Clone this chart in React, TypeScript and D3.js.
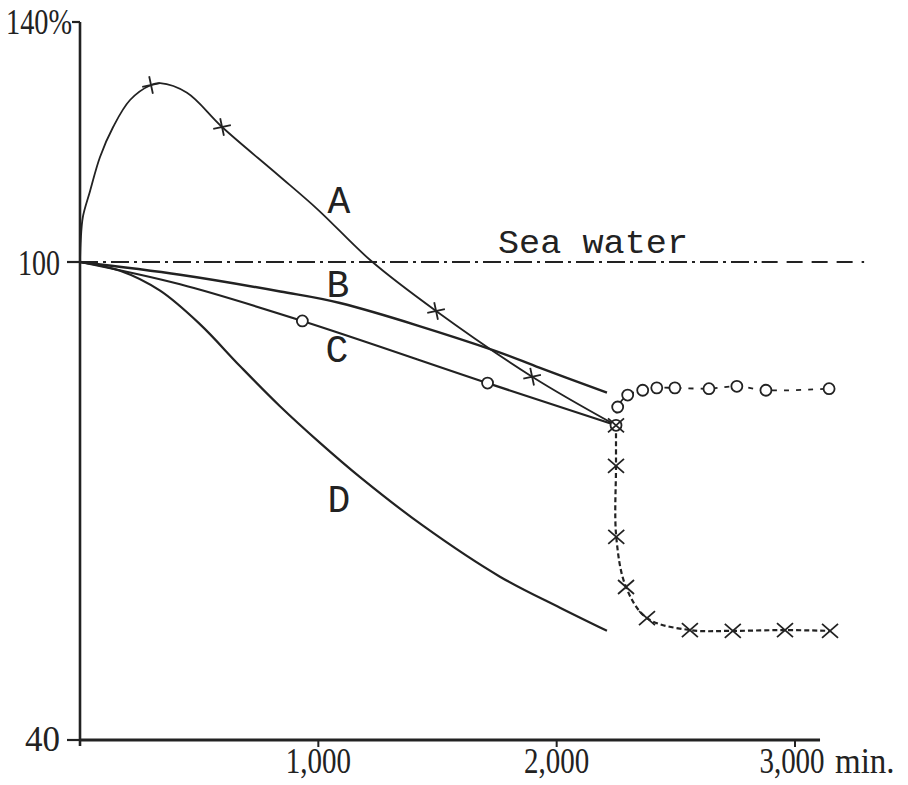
import React from "react";
import * as d3 from "d3";

// ---- axes ----
const Y_TICKS = [40, 100, 140];
const Y_TICK_LABELS = ["40", "100", "140%"];
const X_TICKS = [1000, 2000, 3000];
const X_TICK_LABELS = ["1,000", "2,000", "3,000"];
const X_UNIT = "min.";
const X_AXIS_END = 3105;

// ---- reference line ----
const SEA_WATER_LEVEL = 100;
const SEA_WATER_DASHDOT_END = 2860;
const SEA_WATER_END = 3290;
const SEA_WATER_LABEL = "Sea water";

// ---- curve A (solid) ----
const A_TIME = [0, 3, 12, 42, 84, 139, 210, 298, 336, 449, 596, 831, 999, 1221, 1494, 1897, 2249];
const A_VALUE = [100, 103.5, 107.5, 111.8, 117.5, 122.5, 127, 129.5, 129.8, 128.2, 122.5, 114.5, 108.7, 100.2, 93.85, 85.6, 79.5];
const A_MARK_TIME = [298, 596, 1494, 1897];
const A_MARK_VALUE = [129.5, 122.5, 93.85, 85.6];

// ---- curve B ----
const B_TIME = [0, 420, 840, 1091, 1733, 1930, 2211];
const B_VALUE = [100, 98.4, 96.3, 94.85, 88.95, 86.7, 83.6];

// ---- curve C ----
const C_TIME = [0, 420, 933, 1710, 2249];
const C_VALUE = [100, 97.2, 92.6, 84.8, 79.5];
const C_MARK_TIME = [933, 1710, 2249];
const C_MARK_VALUE = [92.6, 84.8, 79.5];

// ---- curve D ----
const D_TIME = [0, 168, 336, 503, 671, 839, 1007, 1175, 1439, 1762, 2014, 2211];
const D_VALUE = [100, 98.9, 96.4, 92.2, 86.95, 81.9, 77.3, 73.0, 66.9, 60.5, 56.6, 53.7];

// ---- continuation after transfer (dotted) ----
const A_AFTER_TIME = [2249, 2249, 2250, 2291, 2379, 2559, 2739, 2958, 3147];
const A_AFTER_VALUE = [79.5, 74.4, 65.5, 59.2, 55.3, 53.8, 53.7, 53.8, 53.7];
const C_AFTER_TIME = [2249, 2256, 2298, 2361, 2420, 2496, 2639, 2756, 2878, 3143];
const C_AFTER_VALUE = [79.5, 81.8, 83.3, 83.9, 84.2, 84.2, 84.1, 84.4, 83.9, 84.1];

const INK = "#222";

const x = d3.scaleLinear().domain([0, 3000]).range([80, 795]);
const y = d3.scaleLinear().domain([40, 100, 140]).range([740, 262, 22]);

const zip = (t: number[], v: number[]) => t.map((tt, i) => [tt, v[i]] as [number, number]);

const smooth = d3
  .line<[number, number]>()
  .x((d) => x(d[0]))
  .y((d) => y(d[1]))
  .curve(d3.curveCatmullRom.alpha(0.5));

const straight = d3
  .line<[number, number]>()
  .x((d) => x(d[0]))
  .y((d) => y(d[1]));

function Plus({ cx, cy }: { cx: number; cy: number }) {
  return (
    <path
      d="M-9,0 L9,0 M0,-9 L0,9"
      transform={`translate(${cx},${cy}) rotate(-12)`}
      stroke={INK}
      strokeWidth={1.8}
      fill="none"
    />
  );
}

function Cross({ cx, cy }: { cx: number; cy: number }) {
  return (
    <path
      d="M-8,-7 L8,7 M-8,7 L8,-7"
      transform={`translate(${cx},${cy})`}
      stroke={INK}
      strokeWidth={1.8}
      fill="none"
    />
  );
}

function Ring({ cx, cy }: { cx: number; cy: number }) {
  return <circle cx={cx} cy={cy} r={5.5} fill="white" stroke={INK} strokeWidth={1.8} />;
}

export default function App() {
  const serif = "'Liberation Serif', 'DejaVu Serif', serif";
  const mono = "'Liberation Mono', 'DejaVu Sans Mono', monospace";
  const yLabelWidths = [35, 42, 66];
  const yLabelBaselines = [11, 13, 12];
  const labelSize = 38;
  const xLabelY = y(40) + 33;
  return (
    <svg
      width={908}
      height={785}
      style={{ position: "absolute", left: 0, top: 0, background: "white" }}
    >
      <rect width={908} height={785} fill="white" />

      {/* Sea water reference line */}
      <path
        d={straight([
          [0, SEA_WATER_LEVEL],
          [SEA_WATER_DASHDOT_END, SEA_WATER_LEVEL],
        ]) || ""}
        stroke={INK}
        strokeWidth={1.8}
        strokeDasharray="18,5,3,5"
        fill="none"
      />
      <path
        d={straight([
          [SEA_WATER_DASHDOT_END, SEA_WATER_LEVEL],
          [SEA_WATER_END, SEA_WATER_LEVEL],
        ]) || ""}
        stroke={INK}
        strokeWidth={1.8}
        strokeDasharray="16,9"
        fill="none"
      />
      <text
        x={593}
        y={253}
        fontFamily={mono}
        fontSize={34}
        textAnchor="middle"
        fill={INK}
        textLength={190}
        lengthAdjust="spacingAndGlyphs"
      >
        {SEA_WATER_LABEL}
      </text>

      {/* Curves */}
      <path d={smooth(zip(D_TIME, D_VALUE)) || ""} stroke={INK} strokeWidth={2.2} fill="none" />
      <path d={smooth(zip(B_TIME, B_VALUE)) || ""} stroke={INK} strokeWidth={2.4} fill="none" />
      <path d={smooth(zip(C_TIME, C_VALUE)) || ""} stroke={INK} strokeWidth={2.2} fill="none" />
      <path d={smooth(zip(A_TIME, A_VALUE)) || ""} stroke={INK} strokeWidth={1.8} fill="none" />

      {/* Dotted continuations */}
      <path
        d={smooth(zip(A_AFTER_TIME, A_AFTER_VALUE)) || ""}
        stroke={INK}
        strokeWidth={2.2}
        strokeDasharray="5,3"
        fill="none"
      />
      <path
        d={smooth(zip(C_AFTER_TIME, C_AFTER_VALUE)) || ""}
        stroke={INK}
        strokeWidth={1.8}
        strokeDasharray="5,7"
        fill="none"
      />

      {/* Markers */}
      {A_MARK_TIME.map((t, i) => (
        <Plus key={"am" + i} cx={x(t)} cy={y(A_MARK_VALUE[i])} />
      ))}
      {C_MARK_TIME.map((t, i) => (
        <Ring key={"cm" + i} cx={x(t)} cy={y(C_MARK_VALUE[i])} />
      ))}
      {C_AFTER_TIME.slice(1).map((t, i) => (
        <Ring key={"ca" + i} cx={x(t)} cy={y(C_AFTER_VALUE[i + 1])} />
      ))}
      {A_AFTER_TIME.map((t, i) => (
        <Cross key={"aa" + i} cx={x(t)} cy={y(A_AFTER_VALUE[i])} />
      ))}

      {/* Curve labels */}
      <text x={339} y={213} fontFamily={mono} fontSize={labelSize} textAnchor="middle" fill={INK}>A</text>
      <text x={338} y={297} fontFamily={mono} fontSize={labelSize} textAnchor="middle" fill={INK}>B</text>
      <text x={337} y={362} fontFamily={mono} fontSize={labelSize} textAnchor="middle" fill={INK}>C</text>
      <text x={339} y={512} fontFamily={mono} fontSize={labelSize} textAnchor="middle" fill={INK}>D</text>

      {/* Y axis */}
      <line x1={x(0)} x2={x(0)} y1={y(140)} y2={y(40) + 6} stroke={INK} strokeWidth={2.6} />
      {Y_TICKS.map((v, i) => (
        <g key={"yt" + i}>
          <line
            x1={x(0) - (i === 2 ? 8 : 13)}
            x2={x(0)}
            y1={y(v)}
            y2={y(v)}
            stroke={INK}
            strokeWidth={2.2}
          />
          <text
            x={i === 2 ? 72 : 60}
            y={y(v) + yLabelBaselines[i]}
            fontFamily={serif}
            fontSize={36}
            textAnchor="end"
            fill={INK}
            textLength={yLabelWidths[i]}
            lengthAdjust="spacingAndGlyphs"
          >
            {Y_TICK_LABELS[i]}
          </text>
        </g>
      ))}

      {/* X axis */}
      <line x1={x(0)} x2={x(X_AXIS_END)} y1={y(40)} y2={y(40)} stroke={INK} strokeWidth={3} />
      {X_TICKS.map((v, i) => (
        <g key={"xt" + i}>
          <line x1={x(v)} x2={x(v)} y1={y(40)} y2={y(40) + 7} stroke={INK} strokeWidth={2} />
          <text
            transform={`translate(${x(v) - (i === 2 ? 3 : 0)},${xLabelY}) scale(1,1.2)`}
            fontFamily={serif}
            fontSize={29}
            textAnchor="middle"
            fill={INK}
          >
            {X_TICK_LABELS[i]}
          </text>
        </g>
      ))}
      <text
        transform={`translate(${x(3000) + 40},${xLabelY}) scale(1.1,1.2)`}
        fontFamily={serif}
        fontSize={30}
        textAnchor="start"
        fill={INK}
      >
        {X_UNIT}
      </text>
    </svg>
  );
}
